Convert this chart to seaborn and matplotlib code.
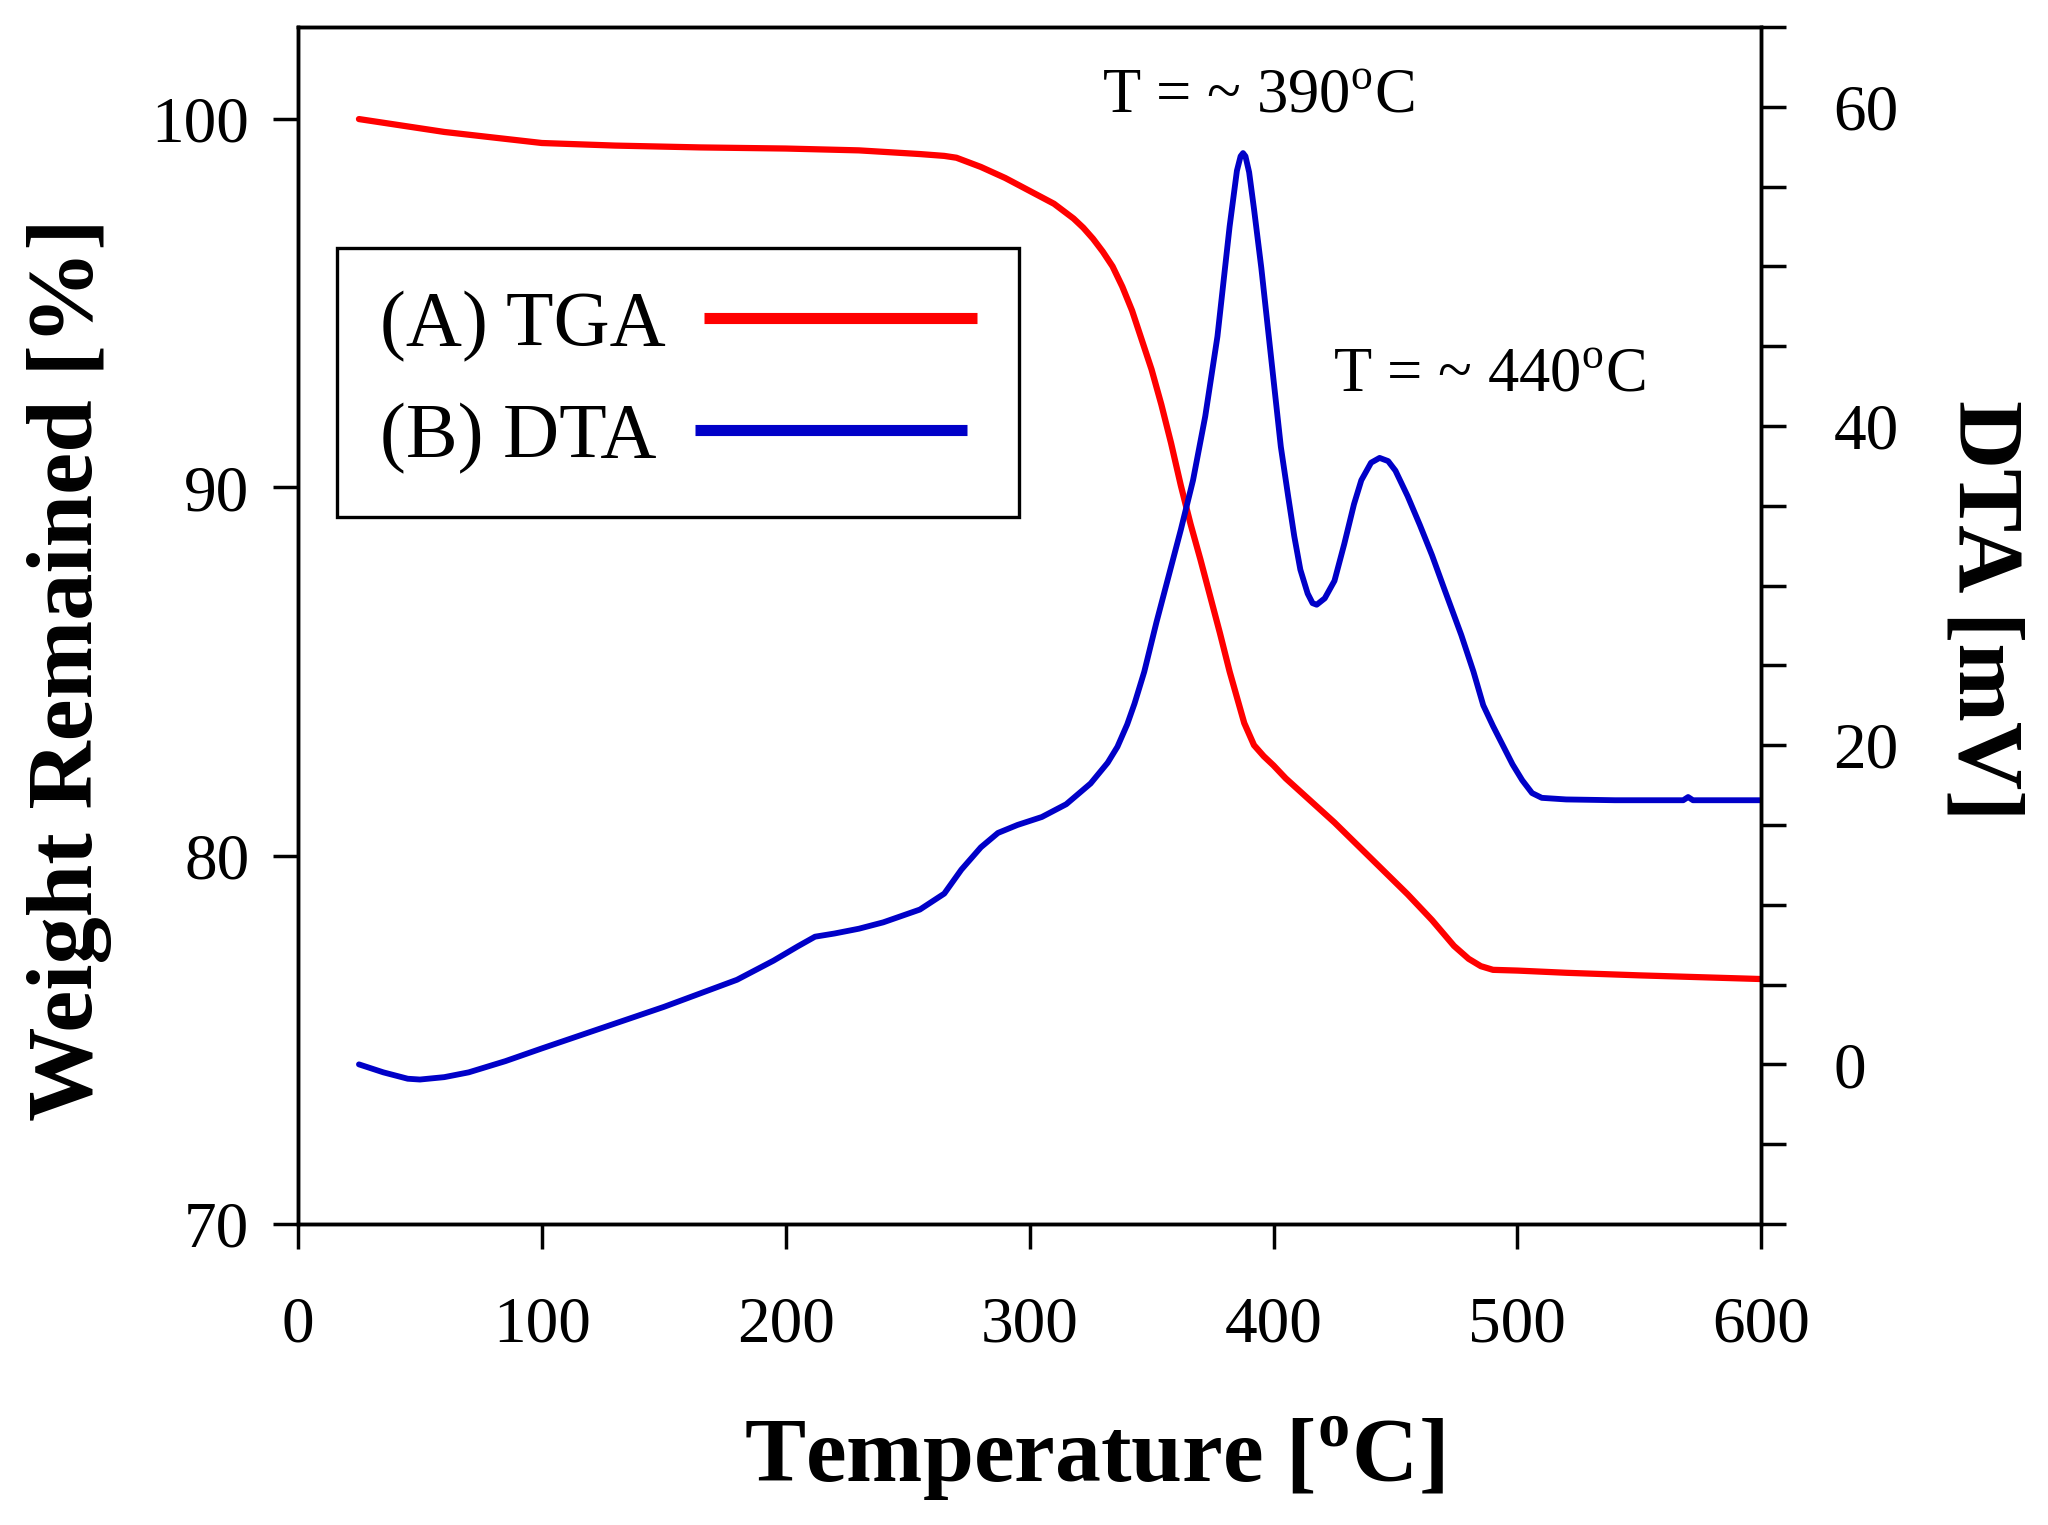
import numpy as np
import seaborn as sns
import matplotlib
matplotlib.use("Agg")
import matplotlib.pyplot as plt

# TGA curve: temperature [oC] vs weight remained [%]
tga_temp = [25, 40, 60, 80, 100, 130, 165, 200, 230, 255, 265, 270, 280, 290,
            300, 310, 318, 322, 326, 330, 334, 338, 342, 346, 350, 354, 358,
            362, 366, 370, 374, 378, 382, 385, 388, 392, 396, 400, 405, 415,
            425, 435, 445, 455, 465, 474, 480, 485, 490, 500, 520, 550, 575, 600]
tga_weight = [100.0, 99.85, 99.65, 99.5, 99.35, 99.28, 99.23, 99.2, 99.15, 99.05,
              99.0, 98.95, 98.7, 98.4, 98.05, 97.7, 97.3, 97.05, 96.75, 96.4,
              96.0, 95.45, 94.8, 94.0, 93.2, 92.25, 91.2, 90.05, 89.0, 88.05,
              87.05, 86.05, 85.0, 84.3, 83.6, 83.0, 82.7, 82.45, 82.1, 81.5,
              80.9, 80.25, 79.6, 78.95, 78.25, 77.55, 77.2, 77.0, 76.9, 76.88,
              76.82, 76.75, 76.7, 76.65]

# DTA curve: temperature [oC] vs signal [mV]
dta_temp = [25, 35, 45, 50, 60, 70, 85, 100, 125, 150, 180, 195, 205, 212, 220,
            230, 240, 255, 265, 272, 280, 287, 295, 305, 315, 325, 332, 336, 340,
            343, 347, 352, 357, 362, 367, 372, 377, 382, 385, 386.5, 387.5, 388.5,
            390, 392, 395, 399, 403, 406, 408.5, 411, 414, 416, 417.7, 421, 425,
            429, 433, 436, 440, 443.5, 447, 450, 455, 460, 465, 470, 477, 482,
            486, 490, 494, 498, 502, 506, 510, 520, 540, 568, 570, 572, 600]
dta_mv = [0.0, -0.5, -0.9, -0.95, -0.8, -0.5, 0.2, 1.0, 2.3, 3.6, 5.3, 6.5, 7.4,
          8.0, 8.2, 8.5, 8.9, 9.7, 10.7, 12.2, 13.6, 14.5, 15.0, 15.5, 16.3, 17.6,
          18.9, 19.9, 21.3, 22.6, 24.6, 27.7, 30.6, 33.5, 36.6, 40.6, 45.6, 52.5,
          56.0, 56.9, 57.1, 56.9, 55.9, 53.6, 49.9, 44.3, 38.7, 35.6, 33.1, 31.0,
          29.5, 28.9, 28.8, 29.2, 30.3, 32.6, 35.1, 36.6, 37.7, 38.0, 37.8, 37.2,
          35.6, 33.8, 31.9, 29.8, 26.9, 24.6, 22.5, 21.2, 20.0, 18.8, 17.8, 17.0,
          16.7, 16.6, 16.55, 16.55, 16.75, 16.55, 16.55]

temp_ticks = [0, 100, 200, 300, 400, 500, 600]
weight_ticks = [70, 80, 90, 100]
dta_ticks = list(range(-10, 66, 5))
dta_tick_labels = [str(v) if v in (0, 20, 40, 60) else '' for v in dta_ticks]

peak_labels = ['T = ~ 390$^{\\mathrm{o}}$C', 'T = ~ 440$^{\\mathrm{o}}$C']
peak_label_pos = [(393.5, 60.6), (488.3, 43.1)]

sns.set_style('ticks', rc={'axes.edgecolor': 'black', 'xtick.color': 'black',
                           'ytick.color': 'black', 'text.color': 'black',
                           'axes.labelcolor': 'black'})
plt.rcParams['font.family'] = ['Liberation Serif', 'DejaVu Serif']
plt.rcParams['mathtext.fontset'] = 'custom'
plt.rcParams['mathtext.rm'] = 'Liberation Serif'
plt.rcParams['mathtext.bf'] = 'Liberation Serif:bold'

fig, ax = plt.subplots(figsize=(20.48, 15.25), dpi=100)
fig.subplots_adjust(left=0.1455, right=0.860, bottom=0.1974, top=0.9823)

red = '#ff0000'
blue = '#0000c8'

sns.lineplot(x=tga_temp, y=tga_weight, ax=ax, color=red, linewidth=4.5)
ax2 = ax.twinx()
sns.lineplot(x=dta_temp, y=dta_mv, ax=ax2, color=blue, linewidth=4.2)

ax.set_xlim(0, 600)
ax.set_ylim(70, 102.5)
ax.set_xticks(temp_ticks)
ax.set_yticks(weight_ticks)
ax2.set_ylim(-10, 65)
ax2.set_yticks(dta_ticks)
ax2.set_yticklabels(dta_tick_labels)

for a in (ax, ax2):
    for sp in a.spines.values():
        sp.set_visible(True)
        sp.set_linewidth(2.5)
        sp.set_color('black')
    a.tick_params(direction='out', length=18, width=2.5, labelsize=47)
ax.tick_params(axis='x', pad=34)
ax.tick_params(axis='y', pad=17)
ax2.tick_params(axis='y', pad=34)

ax.set_xlabel('Temperature [$^{\\mathbf{o}}$C]', fontsize=66, fontweight='bold')
ax.xaxis.set_label_coords(0.544, -0.159)
ax.set_ylabel('Weight Remained [%]', fontsize=68, fontweight='bold')
ax.yaxis.set_label_coords(-0.127, 0.463)
ax2.set_ylabel('DTA [mV]', fontsize=68, fontweight='bold', rotation=270, va='bottom')
ax2.yaxis.set_label_coords(1.122, 0.5125)

for text, (tx, ty) in zip(peak_labels, peak_label_pos):
    ax2.text(tx, ty, text, fontsize=45, ha='center', va='center')

handles = [ax.lines[0], ax2.lines[0]]
leg = ax2.legend(handles, ['(A) TGA', '(B) DTA'], loc='upper left',
                 bbox_to_anchor=(0.0267, 0.8155), borderaxespad=0,
                 fontsize=56, markerfirst=False, handlelength=3.5,
                 handletextpad=0.5, borderpad=0.55, labelspacing=0.52,
                 fancybox=False, framealpha=1, edgecolor='black')
leg.get_frame().set_linewidth(2.4)
for line in leg.get_lines():
    line.set_linewidth(8)
    line.set_solid_capstyle('butt')
# left-align the rows so each handle follows its own text
for column in leg._legend_handle_box.get_children():
    column.align = 'left'

fig.savefig('out.png', dpi=100)
